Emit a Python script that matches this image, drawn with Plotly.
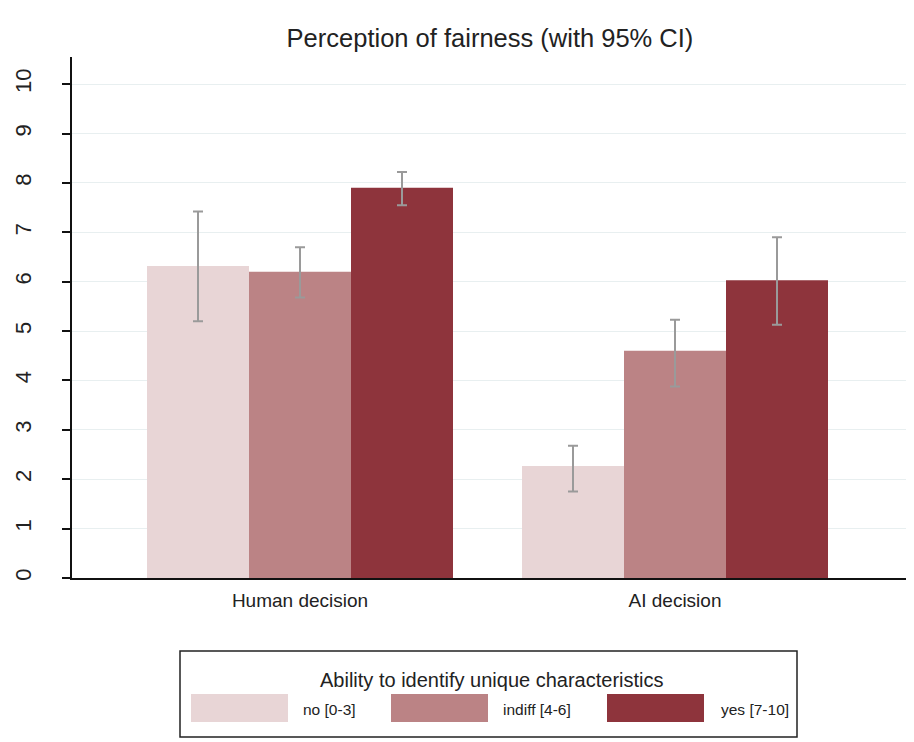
import plotly.graph_objects as go

categories = ["Human decision", "AI decision"]
series_names = ["no [0-3]", "indiff [4-6]", "yes [7-10]"]
series_colors = ["#e8d5d6", "#bb8385", "#8e343c"]

no_mean = [6.32, 2.27]
no_lo = [5.20, 1.75]
no_hi = [7.42, 2.68]

indiff_mean = [6.20, 4.60]
indiff_lo = [5.68, 3.88]
indiff_hi = [6.70, 5.23]

yes_mean = [7.90, 6.03]
yes_lo = [7.55, 5.13]
yes_hi = [8.22, 6.90]

y_ticks = [0, 1, 2, 3, 4, 5, 6, 7, 8, 9, 10]

legend_title = "Ability to identify unique characteristics"
chart_title = "Perception of fairness (with 95% CI)"

FONT = "Liberation Sans, Arial, sans-serif"

series = [
    (no_mean, no_lo, no_hi),
    (indiff_mean, indiff_lo, indiff_hi),
    (yes_mean, yes_lo, yes_hi),
]

fig = go.Figure()
for name, color, (m, lo, hi) in zip(series_names, series_colors, series):
    fig.add_trace(go.Bar(
        x=categories, y=m, name=name,
        marker=dict(color=color, line=dict(width=0)),
        error_y=dict(type="data",
                     array=[h - v for h, v in zip(hi, m)],
                     arrayminus=[v - l for v, l in zip(m, lo)],
                     color="#9a9a9a", thickness=2, width=5),
        showlegend=False,
    ))

# Layout geometry (pixels); page body adds an 8px offset
OFF = 8
W, H = 914, 742
L, T = 72 - OFF, 57 - OFF
R = W - (906 - OFF)
B = H - (578 - OFF)
pw, ph = W - L - R, H - T - B

def px2x(px):
    return (px - OFF - L) / pw

def py2y(py):
    return (H - B - (py - OFF)) / ph

shapes = []
annotations = []
# legend box
shapes.append(dict(type="rect", xref="paper", yref="paper",
                   x0=px2x(180), x1=px2x(797), y0=py2y(651), y1=py2y(737),
                   line=dict(color="#222222", width=1.5), fillcolor="white"))
annotations.append(dict(xref="paper", yref="paper", x=px2x(492), y=py2y(680),
                        text=legend_title, showarrow=False,
                        font=dict(size=20, color="#222222", family=FONT),
                        xanchor="center", yanchor="middle"))
sw_x = [191, 391, 607]
lab_x = [301, 501, 719]
for name, color, sx, lx in zip(series_names, series_colors, sw_x, lab_x):
    shapes.append(dict(type="rect", xref="paper", yref="paper",
                       x0=px2x(sx), x1=px2x(sx + 97), y0=py2y(694), y1=py2y(722),
                       line=dict(width=0), fillcolor=color))
    annotations.append(dict(xref="paper", yref="paper", x=px2x(lx), y=py2y(709),
                            text=name, showarrow=False,
                            font=dict(size=15.5, color="#222222", family=FONT),
                            xanchor="left", yanchor="middle"))

fig.update_layout(
    width=W, height=H,
    margin=dict(l=L, r=R, t=T, b=B, autoexpand=False),
    paper_bgcolor="white", plot_bgcolor="white",
    barmode="group", bargap=0.184, bargroupgap=0,
    font=dict(family=FONT, color="#222222"),
    title=dict(text=chart_title, x=(490 - OFF) / W, xanchor="center",
               y=1 - (38 - OFF) / H, yanchor="middle",
               font=dict(size=25.5, color="#222222", family=FONT)),
    shapes=shapes, annotations=annotations,
)
fig.update_xaxes(type="category", range=[-0.608, 1.616], automargin=False,
                 showline=True, linecolor="#111111", linewidth=1.5,
                 ticks="", showgrid=False, ticklabelstandoff=4,
                 tickfont=dict(size=19, color="#222222"))
fig.update_yaxes(range=[0, 10.55], tickvals=y_ticks, automargin=False,
                 showline=True, linecolor="#111111", linewidth=1.5,
                 ticks="outside", ticklen=8, tickcolor="#111111", tickwidth=1.5,
                 tickangle=-90, tickfont=dict(size=22, color="#222222"),
                 ticklabelstandoff=22,
                 showgrid=True, gridcolor="#e8eff0", gridwidth=1.2,
                 zeroline=False)

fig.write_html("out.html")
